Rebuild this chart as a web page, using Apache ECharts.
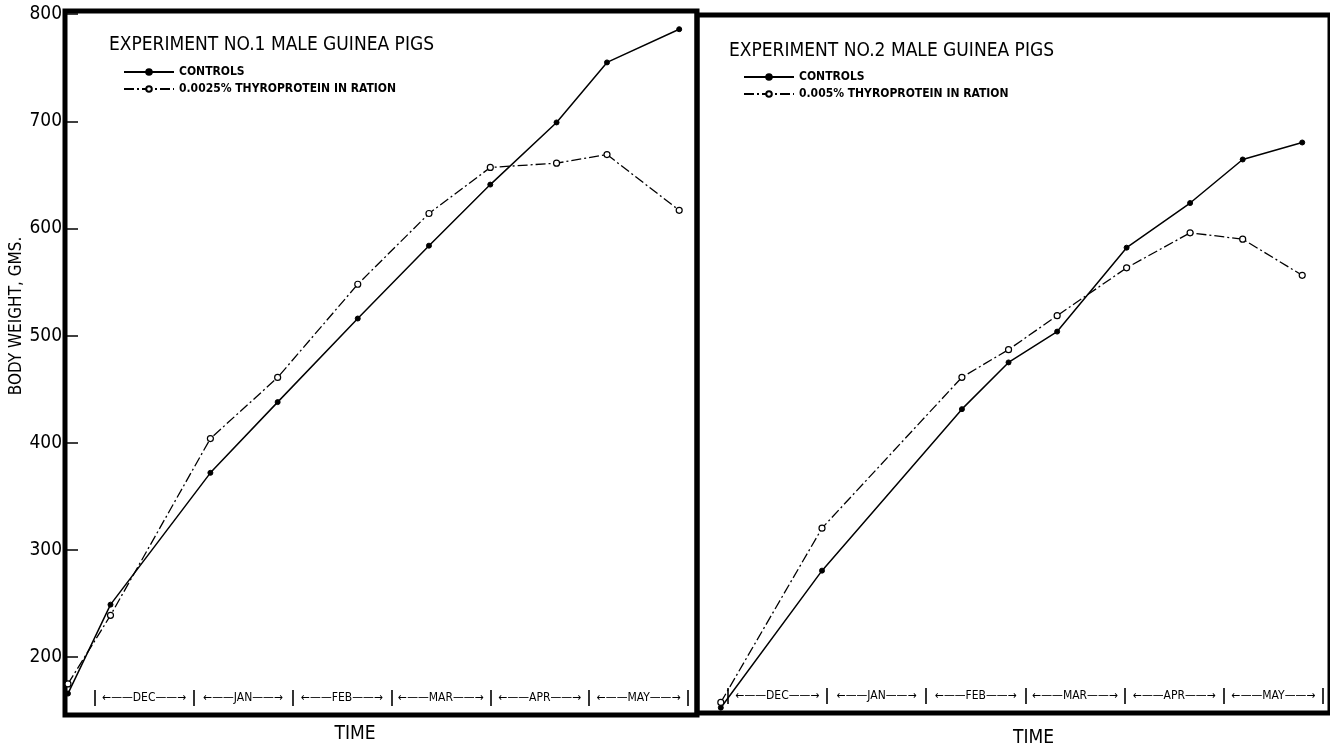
<!DOCTYPE html>
<html>
<head>
<meta charset="utf-8">
<style>
  html, body { margin: 0; padding: 0; background: #ffffff; }
  #chart { width: 1330px; height: 753px; }
</style>
<script src="https://cdn.jsdelivr.net/npm/echarts@6/dist/echarts.min.js"></script>
</head>
<body>
<div id="chart"></div>
<script>
// ---- data ----
const months = ['DEC', 'JAN', 'FEB', 'MAR', 'APR', 'MAY'];
const monthBounds = [0, 1, 2, 3, 4, 5, 6];
const monthCenters = [0.5, 1.5, 2.5, 3.5, 4.5, 5.5];
const yTicks = [200, 300, 400, 500, 600, 700, 800];

// time position in months from start of December
const exp1Time = [-0.27, 0.16, 1.17, 1.85, 2.66, 3.38, 4.00, 4.67, 5.18, 5.91];
const exp1Controls = [166, 249, 372, 438, 516, 584, 641, 699, 755, 786];
const exp1Thyro = [175, 239, 404, 461, 548, 614, 657, 661, 669, 617];

const exp2Time = [-0.07, 0.95, 2.36, 2.83, 3.32, 4.02, 4.66, 5.19, 5.79];
const exp2Controls = [151, 280, 432, 476, 505, 584, 626, 667, 683];
const exp2Thyro = [156, 320, 462, 488, 520, 565, 598, 592, 558];

const controlsName = 'CONTROLS';
const thyro1Name = '0.0025% THYROPROTEIN IN RATION';
const thyro2Name = '0.005% THYROPROTEIN IN RATION';
const title1 = 'EXPERIMENT NO.1 MALE GUINEA PIGS';
const title2 = 'EXPERIMENT NO.2 MALE GUINEA PIGS';

// ---- styling ----
const FONT = "'Liberation Sans Narrow', 'DejaVu Sans Condensed', 'Liberation Sans', sans-serif";
const pairs = (xs, ys) => xs.map((x, i) => [x, ys[i]]);

function monthAxis(gridIndex, min, max) {
  return {
    type: 'value', gridIndex, min, max, position: 'bottom', offset: -25,
    axisLine: { show: false, onZero: false },
    splitLine: { show: false },
    axisTick: { show: true, customValues: monthBounds, length: 16, lineStyle: { color: '#000', width: 1.6 } },
    axisLabel: {
      show: true, customValues: monthCenters, margin: 2,
      fontFamily: FONT, fontSize: 12, color: '#000',
      formatter: v => '\u2190\u2014\u2014' + months[Math.floor(v)] + '\u2014\u2014\u2192'
    }
  };
}
function mainX(gridIndex, min, max, pad, gap) {
  return {
    type: 'value', gridIndex, min, max,
    axisLine: { show: false, onZero: false }, axisTick: { show: false }, axisLabel: { show: false },
    splitLine: { show: false },
    name: 'TIME', nameLocation: 'middle', nameGap: gap,
    nameTextStyle: { fontFamily: FONT, fontSize: 19, color: '#000', padding: pad }
  };
}
const ctrlStyle = {
  type: 'line', symbol: 'circle', symbolSize: 5,
  lineStyle: { color: '#000', width: 1.5, type: 'solid' },
  itemStyle: { color: '#000', borderColor: '#000', borderWidth: 1 },
  z: 3
};
const thyStyle = {
  type: 'line', symbol: 'circle', symbolSize: 6,
  lineStyle: { color: '#000', width: 1.3, type: [10, 3, 2, 3] },
  itemStyle: { color: '#fff', borderColor: '#000', borderWidth: 1.2 },
  z: 4
};

const option = {
  backgroundColor: '#ffffff',
  animation: false,
  title: [
    { text: title1, left: 104, top: 31, textStyle: { fontFamily: FONT, fontSize: 19, fontWeight: 'normal', color: '#000' } },
    { text: title2, left: 724, top: 37, textStyle: { fontFamily: FONT, fontSize: 19, fontWeight: 'normal', color: '#000' } }
  ],
  legend: [
    {
      orient: 'vertical', left: 118, top: 61, itemWidth: 50, itemHeight: 7, itemGap: 5,
      data: [controlsName, thyro1Name],
      textStyle: { fontFamily: FONT, fontSize: 12, fontWeight: 'bold', color: '#000' }
    },
    {
      orient: 'vertical', left: 738, top: 66, itemWidth: 50, itemHeight: 7, itemGap: 5,
      data: [controlsName, thyro2Name],
      textStyle: { fontFamily: FONT, fontSize: 12, fontWeight: 'bold', color: '#000' }
    }
  ],
  grid: [
    { left: 65, top: 11, width: 632, height: 704, show: true, borderColor: '#000', borderWidth: 5, backgroundColor: 'transparent' },
    { left: 697, top: 15, width: 635, height: 704, show: true, borderColor: '#000', borderWidth: 5, backgroundColor: 'transparent' }
  ],
  xAxis: [
    mainX(0, -0.30, 6.09, [0, 52, 0, 0], 10),
    monthAxis(0, -0.30, 6.09),
    mainX(1, -0.31, 6.07, [0, 0, 0, 40], 16),
    monthAxis(1, -0.31, 6.07)
  ],
  yAxis: [
    {
      type: 'value', gridIndex: 0, min: 146, max: 803, position: 'left',
      axisLine: { show: false, onZero: false }, splitLine: { show: false },
      axisTick: { show: false },
      axisLabel: { show: true, customValues: yTicks, margin: 3, fontFamily: FONT, fontSize: 19, color: '#000' },
      name: 'BODY WEIGHT, GMS.', nameLocation: 'middle', nameGap: 36,
      nameTextStyle: { fontFamily: FONT, fontSize: 17, color: '#000', padding: [0, 0, 0, 94] }
    },
    {
      // tick marks pointing into the plot from the left border
      type: 'value', gridIndex: 0, min: 146, max: 803, position: 'left',
      axisLine: { show: false, onZero: false }, splitLine: { show: false },
      axisTick: { show: true, inside: true, customValues: yTicks, length: 13, lineStyle: { color: '#000', width: 1.5 } },
      axisLabel: { show: false }
    },
    {
      type: 'value', gridIndex: 1, min: 146, max: 803,
      axisLine: { show: false, onZero: false }, splitLine: { show: false },
      axisTick: { show: false }, axisLabel: { show: false }
    }
  ],
  series: [
    Object.assign({ name: controlsName, xAxisIndex: 0, yAxisIndex: 0, data: pairs(exp1Time, exp1Controls) }, ctrlStyle),
    Object.assign({ name: thyro1Name, xAxisIndex: 0, yAxisIndex: 0, data: pairs(exp1Time, exp1Thyro) }, thyStyle),
    Object.assign({ name: controlsName, xAxisIndex: 2, yAxisIndex: 2, data: pairs(exp2Time, exp2Controls) }, ctrlStyle),
    Object.assign({ name: thyro2Name, xAxisIndex: 2, yAxisIndex: 2, data: pairs(exp2Time, exp2Thyro) }, thyStyle)
  ]
};

const chart = echarts.init(document.getElementById('chart'), null, { renderer: 'canvas' });
chart.setOption(option);
</script>
</body>
</html>
